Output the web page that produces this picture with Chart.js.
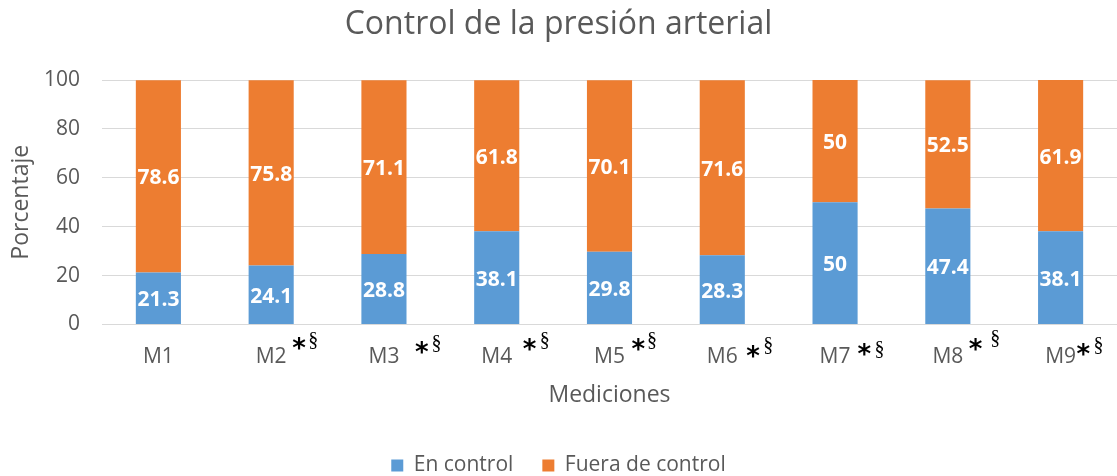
<!DOCTYPE html>
<html>
<head>
<meta charset="utf-8">
<script src="https://cdn.jsdelivr.net/npm/chart.js@4.4.1/dist/chart.umd.min.js"></script>
<style>
  html, body { margin: 0; padding: 0; background: #ffffff; overflow: hidden; }
  #wrap { width: 1117px; height: 476px; }
</style>
</head>
<body>
<div id="wrap"><canvas id="c" width="1117" height="476"></canvas></div>
<script>
const categories = ["M1", "M2", "M3", "M4", "M5", "M6", "M7", "M8", "M9"];
const enControl = [21.3, 24.1, 28.8, 38.1, 29.8, 28.3, 50, 47.4, 38.1];
const fueraDeControl = [78.6, 75.8, 71.1, 61.8, 70.1, 71.6, 50, 52.5, 61.9];
const starMarks = ["", "*", "*", "*", "*", "*", "*", "*", "*"];
const sectionMarks = ["", "§", "§", "§", "§", "§", "§", "§", "§"];
const yTicks = [0, 20, 40, 60, 80, 100];

const TEXT = "#595959";
const FONT = "'Open Sans', 'Noto Sans', sans-serif";
// placement of the annotation glyphs (centre, px) relative to each tick label centre / axis
const starDx = [0, 28, 38, 33, 29, 31, 29.5, 28, 23];
const starCy = [0, 343.5, 347, 344, 344, 351, 349, 344, 349];
const sectionDx = [0, 14, 14.5, 15, 13.5, 15, 15, 19.5, 15];
const sectionCy = [0, 340, 343, 340, 340, 345, 349, 338, 345];

const barLabels = {
  id: "barLabels",
  afterDatasetsDraw(chart) {
    const ctx = chart.ctx;
    ctx.save();
    ctx.fillStyle = "#ffffff";
    ctx.font = "bold 21px " + FONT;
    ctx.textAlign = "center";
    ctx.textBaseline = "middle";
    chart.data.datasets.forEach((ds, di) => {
      const meta = chart.getDatasetMeta(di);
      meta.data.forEach((bar, i) => {
        const y = (bar.y + bar.base) / 2;
        ctx.fillText(String(ds.data[i]), bar.x, y + 2);
      });
    });
    ctx.restore();
  }
};

function drawCentered(ctx, text, cx, cy) {
  const m = ctx.measureText(text);
  const w = m.actualBoundingBoxRight + m.actualBoundingBoxLeft;
  const x = cx - w / 2 + m.actualBoundingBoxLeft;
  const y = cy + (m.actualBoundingBoxAscent - m.actualBoundingBoxDescent) / 2;
  ctx.fillText(text, x, y);
}

const tickAnnotations = {
  id: "tickAnnotations",
  afterDraw(chart) {
    const ctx = chart.ctx;
    const xs = chart.scales.x;
    ctx.save();
    ctx.fillStyle = "#000000";
    ctx.textBaseline = "alphabetic";
    ctx.textAlign = "left";
    categories.forEach((c, i) => {
      const base = xs.getPixelForValue(i);
      if (starMarks[i]) {
        ctx.font = "bold 26px 'DejaVu Sans', sans-serif";
        drawCentered(ctx, starMarks[i], base + starDx[i], starCy[i]);
      }
      if (sectionMarks[i]) {
        ctx.font = "20px 'Liberation Serif', serif";
        drawCentered(ctx, sectionMarks[i], base + starDx[i] + sectionDx[i], sectionCy[i]);
      }
    });
    ctx.restore();
  }
};

new Chart(document.getElementById("c"), {
  type: "bar",
  data: {
    labels: categories,
    datasets: [
      { label: "En control", data: enControl, backgroundColor: "#5B9BD5", barPercentage: 0.8, categoryPercentage: 0.5 },
      { label: "Fuera de control", data: fueraDeControl, backgroundColor: "#ED7D31", barPercentage: 0.8, categoryPercentage: 0.5 }
    ]
  },
  options: {
    responsive: false,
    animation: false,
    layout: { padding: { left: 0, right: 0, top: 0, bottom: -10 } },
    plugins: {
      title: {
        display: true,
        text: "Control de la presión arterial",
        color: TEXT,
        font: { family: FONT, size: 32, weight: "normal" },
        padding: { top: 6, bottom: 35.6 }
      },
      legend: {
        display: true,
        position: "bottom",
        labels: {
          color: TEXT,
          font: { family: FONT, size: 21 },
          boxWidth: 12,
          boxHeight: 12,
          padding: 29
        }
      },
      tooltip: { enabled: false }
    },
    scales: {
      x: {
        stacked: true,
        grid: { display: false, drawTicks: false },
        border: { display: true, color: "#d9d9d9", width: 1 },
        ticks: { color: TEXT, font: { family: FONT, size: 21 }, padding: 20, maxRotation: 0 },
        title: {
          display: true,
          text: "Mediciones",
          color: TEXT,
          font: { family: FONT, size: 23 },
          padding: { top: 0, bottom: 16.7 }
        },
        afterFit(scale) { scale.height = 101.5; }
      },
      y: {
        stacked: true,
        min: 0,
        max: 100,
        afterBuildTicks(scale) { scale.ticks = yTicks.map(v => ({ value: v })); },
        grid: { color: "#d9d9d9", drawTicks: false, lineWidth: 1 },
        border: { display: false },
        ticks: { color: TEXT, font: { family: FONT, size: 21 }, padding: 22 },
        title: {
          display: true,
          text: "Porcentaje",
          color: TEXT,
          font: { family: FONT, size: 23 },
          padding: { top: 8, bottom: 0 }
        },
        afterFit(scale) { scale.width = 102; }
      }
    }
  },
  plugins: [barLabels, tickAnnotations]
});
</script>
</body>
</html>
